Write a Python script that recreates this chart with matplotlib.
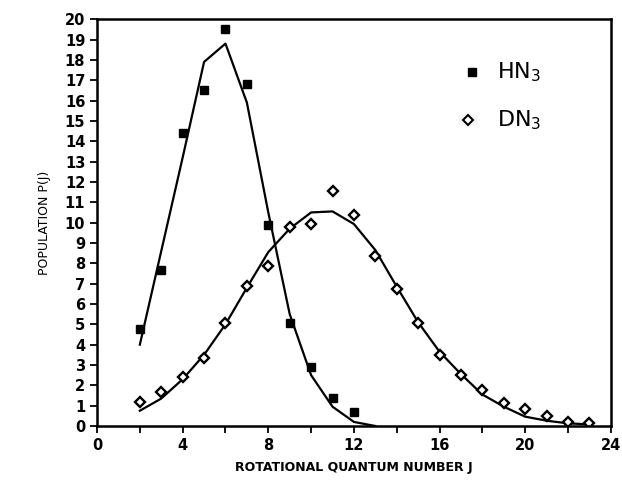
import numpy as np
import matplotlib
matplotlib.use("Agg")
import matplotlib.pyplot as plt

# HN3 measured points and fit line
hn3_j = [2, 3, 4, 5, 6, 7, 8, 9, 10, 11, 12]
hn3_p = [4.75, 7.67, 14.4, 16.5, 19.5, 16.8, 9.9, 5.07, 2.88, 1.39, 0.67]
hn3_fit_j = [2, 3, 4, 5, 6, 7, 8, 9, 10, 11, 12, 13]
hn3_fit_p = [4.0, 8.6, 13.2, 17.9, 18.8, 15.9, 10.5, 5.5, 2.5, 0.95, 0.2, 0.0]

# DN3 measured points and fit line
dn3_j = [2, 3, 4, 5, 6, 7, 8, 9, 10, 11, 12, 13, 14, 15, 16, 17, 18, 19, 20, 21, 22, 23]
dn3_p = [1.19, 1.66, 2.42, 3.34, 5.05, 6.88, 7.88, 9.79, 9.93, 11.55, 10.37, 8.37,
         6.72, 5.08, 3.5, 2.49, 1.77, 1.15, 0.82, 0.49, 0.21, 0.13]
dn3_fit_j = dn3_j
dn3_fit_p = [0.75, 1.35, 2.3, 3.5, 5.0, 6.8, 8.55, 9.7, 10.5, 10.55, 9.93, 8.65,
             6.85, 5.1, 3.65, 2.55, 1.55, 0.95, 0.46, 0.26, 0.13, 0.08]

fig = plt.figure(figsize=(6.22, 4.8), dpi=100)
ax = fig.add_axes([0.156, 0.1125, 0.826, 0.8475])

ax.plot(hn3_fit_j, hn3_fit_p, color="black", lw=1.6)
ax.plot(dn3_fit_j, dn3_fit_p, color="black", lw=1.6)
ax.plot(hn3_j, hn3_p, "s", color="black", ms=6, mec="black")
ax.plot(dn3_j, dn3_p, "D", mfc="white", mec="black", mew=1.7, ms=5.5)

ax.set_xlim(0, 24)
ax.set_ylim(0, 20)
ax.set_xticks(np.arange(0, 25, 4))
ax.set_xticks(np.arange(0, 25, 2), minor=True)
ax.set_yticks(np.arange(0, 21, 1))
ax.tick_params(axis="both", direction="out", width=1.3, length=5, labelsize=10.5)
ax.tick_params(axis="x", which="minor", direction="out", width=1.3, length=5)
for lab in ax.get_xticklabels() + ax.get_yticklabels():
    lab.set_fontweight("bold")
for s in ax.spines.values():
    s.set_linewidth(1.8)

ax.set_xlabel("ROTATIONAL QUANTUM NUMBER J", fontsize=9, fontweight="bold", labelpad=6)
ax.set_ylabel("POPULATION P(J)", fontsize=9, labelpad=10)

# legend drawn as in the original figure
ax.plot([17.5], [17.4], "s", color="black", ms=6, transform=ax.transData)
ax.text(18.7, 17.4, "HN$_3$", fontsize=16, va="center", ha="left")
ax.plot([17.35], [15.05], "D", mfc="white", mec="black", mew=1.5, ms=5)
ax.text(18.7, 15.05, "DN$_3$", fontsize=16, va="center", ha="left")

fig.savefig("out.png", dpi=100)
